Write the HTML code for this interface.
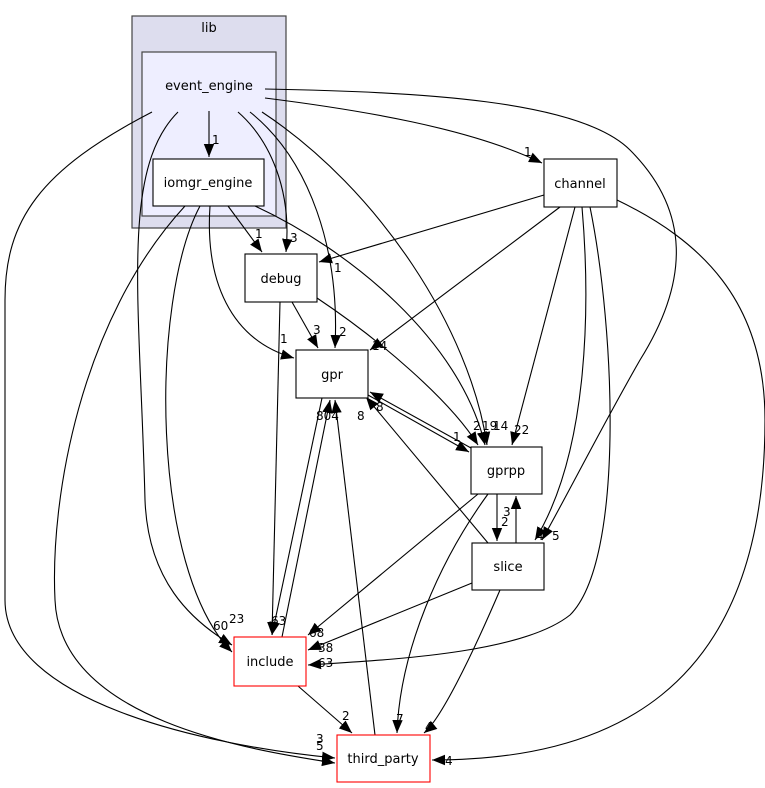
<!DOCTYPE html>
<html><head><meta charset="utf-8"><style>
html,body{margin:0;padding:0;background:#fff}
svg{display:block}
text{font-family:"DejaVu Sans","Liberation Sans",sans-serif;font-size:13px;fill:#000}
.l{font-size:12px}
.e{fill:none;stroke:#000;stroke-width:1.1}
</style></head><body>
<svg width="765" height="788" viewBox="0 0 765 788" xmlns="http://www.w3.org/2000/svg">
<defs><marker id="a" viewBox="0 0 10 10" refX="10" refY="5" markerWidth="13" markerHeight="13" markerUnits="userSpaceOnUse" orient="auto"><path d="M0,1 L10,5 L0,9 z" fill="#000"/></marker></defs>
<rect x="132" y="16" width="154" height="212" fill="#ddddee" stroke="#444" stroke-width="1.2"/>
<text x="209" y="32" text-anchor="middle">lib</text>
<rect x="142" y="52" width="134" height="164" fill="#eeeeff" stroke="#444" stroke-width="1.2"/>
<text x="209" y="90" text-anchor="middle">event_engine</text>
<g marker-end="url(#a)" class="e">
<path class="e" d="M209,111 L209,157"/>
<path class="e" d="M265,98 C360,110 470,128 542,163"/>
<path class="e" d="M265,89 C420,92 580,100 630,150 C690,210 690,280 640,360 C600,430 570,490 542,540"/>
<path class="e" d="M238,112 C270,140 292,190 286,252"/>
<path class="e" d="M250,112 C310,160 340,250 335,348"/>
<path class="e" d="M262,112 C380,190 470,330 487,445"/>
<path class="e" d="M178,112 C120,170 140,300 145,500 C148,580 190,620 232,645"/>
<path class="e" d="M152,112 C40,170 5,220 5,300 L5,600 C5,700 200,745 335,758"/>
<path class="e" d="M228,206 L262,252"/>
<path class="e" d="M210,206 C205,280 230,340 294,358"/>
<path class="e" d="M255,206 C350,250 460,340 485,445"/>
<path class="e" d="M200,206 C150,300 150,570 232,652"/>
<path class="e" d="M185,206 C80,320 50,500 55,600 C60,720 250,750 335,763"/>
<path class="e" d="M292,302 L318,348"/>
<path class="e" d="M317,298 C380,340 450,400 478,445"/>
<path class="e" d="M280,302 L272,635"/>
<path class="e" d="M544,195 L319,262"/>
<path class="e" d="M560,207 L370,350"/>
<path class="e" d="M575,207 L512,445"/>
<path class="e" d="M582,207 C590,300 590,450 535,540"/>
<path class="e" d="M590,207 C615,330 625,560 570,615 C520,655 380,660 308,665"/>
<path class="e" d="M617,200 C700,240 765,300 765,420 C765,700 600,760 432,760"/>
<path class="e" d="M368,395 L469,452"/>
<path class="e" d="M471,448 L370,392"/>
<path class="e" d="M322,398 L272,635"/>
<path class="e" d="M282,637 L330,400"/>
<path class="e" d="M375,735 L335,400"/>
<path class="e" d="M488,543 L366,397"/>
<path class="e" d="M497,494 L497,541"/>
<path class="e" d="M516,543 L516,496"/>
<path class="e" d="M478,494 L308,635"/>
<path class="e" d="M488,494 C440,560 400,650 397,733"/>
<path class="e" d="M472,583 L308,650"/>
<path class="e" d="M500,590 C470,660 440,720 424,733"/>
<path class="e" d="M298,686 L352,733"/>
</g>
<g fill="#fff" stroke="#000" stroke-width="1.1">
<rect x="153" y="159" width="111" height="47"/>
<rect x="245" y="254" width="72" height="48"/>
<rect x="544" y="159" width="73" height="48"/>
<rect x="296" y="350" width="72" height="48"/>
<rect x="471" y="447" width="71" height="47"/>
<rect x="472" y="543" width="72" height="47"/>
<rect x="234" y="637" width="72" height="49" stroke="#f00"/>
<rect x="337" y="735" width="93" height="47" stroke="#f00"/>
</g>
<text x="208" y="187" text-anchor="middle">iomgr_engine</text>
<text x="281" y="283" text-anchor="middle">debug</text>
<text x="580" y="188" text-anchor="middle">channel</text>
<text x="332" y="379" text-anchor="middle">gpr</text>
<text x="506" y="475" text-anchor="middle">gprpp</text>
<text x="508" y="571" text-anchor="middle">slice</text>
<text x="270" y="666" text-anchor="middle">include</text>
<text x="383" y="763" text-anchor="middle">third_party</text>
<g class="l">
<text class="l" x="212" y="144">1</text>
<text class="l" x="524" y="156">1</text>
<text class="l" x="255" y="238">1</text>
<text class="l" x="290" y="242">3</text>
<text class="l" x="334" y="272">1</text>
<text class="l" x="280" y="343">1</text>
<text class="l" x="313" y="334">3</text>
<text class="l" x="339" y="336">2</text>
<text class="l" x="372" y="350">14</text>
<text class="l" x="376" y="411">8</text>
<text class="l" x="453" y="441">1</text>
<text class="l" x="473" y="430">2</text>
<text class="l" x="482" y="430">19</text>
<text class="l" x="493" y="430">14</text>
<text class="l" x="514" y="434">22</text>
<text class="l" x="316" y="420">804</text>
<text class="l" x="357" y="420">8</text>
<text class="l" x="503" y="516">3</text>
<text class="l" x="501" y="526">2</text>
<text class="l" x="552" y="540">5</text>
<text class="l" x="536" y="540">4</text>
<text class="l" x="229" y="623">23</text>
<text class="l" x="213" y="630">60</text>
<text class="l" x="271" y="625">63</text>
<text class="l" x="309" y="637">68</text>
<text class="l" x="318" y="652">38</text>
<text class="l" x="318" y="667">63</text>
<text class="l" x="342" y="720">2</text>
<text class="l" x="396" y="723">7</text>
<text class="l" x="425" y="731">4</text>
<text class="l" x="316" y="743">3</text>
<text class="l" x="316" y="750">5</text>
<text class="l" x="445" y="765">4</text>
</g>
</svg>
</body></html>
